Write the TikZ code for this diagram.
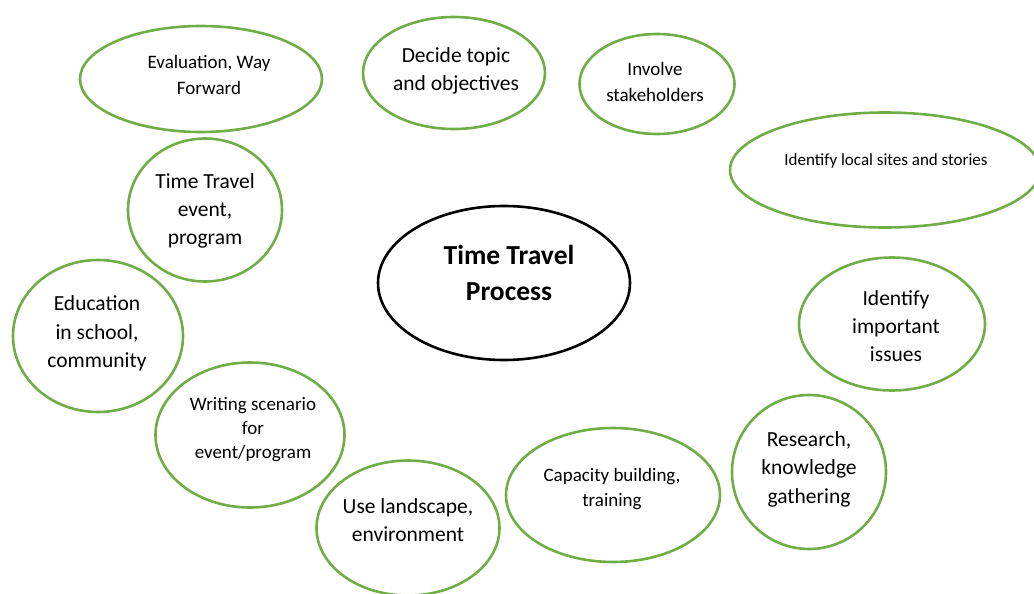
\documentclass[tikz,border=0pt]{standalone}
\usepackage{fontspec}
\setmainfont{Carlito}
\usetikzlibrary{shapes.geometric}
\definecolor{stepGreen}{RGB}{112,173,71}
\tikzstyle{stepOval}=[shape = ellipse, draw = stepGreen, line width = 2.6pt, inner sep = 0pt]
\tikzstyle{coreOval}=[shape = ellipse, draw = black, line width = 2.6pt, inner sep = 0pt]
\tikzstyle{textSmall}=[anchor = base, align = center, inner sep = 0pt, font = \fontsize{19}{25.7}\selectfont]
\tikzstyle{textMid}=[anchor = base, align = center, inner sep = 0pt, font = \fontsize{21.5}{28.2}\selectfont]
\begin{document}
\begin{tikzpicture}[x = 1pt, y = -1pt]
\useasboundingbox (0,0) rectangle (1034,594);
\clip (0,0) rectangle (1034,594);
\tikzstyle{textTiny}=[anchor = base, align = center, inner sep = 0pt, font = \fontsize{17}{22}\selectfont]
\tikzstyle{textCore}=[anchor = base, align = center, inner sep = 0pt, font = \fontsize{27.5}{36.7}\selectfont\bfseries]
\node[stepOval, minimum width = 242, minimum height = 106] (evalOval) at (201, 79) {};
\node[stepOval, minimum width = 182, minimum height = 112] (decideOval) at (454, 73) {};
\node[stepOval, minimum width = 155, minimum height = 100] (involveOval) at (657, 84) {};
\node[stepOval, minimum width = 310, minimum height = 115] (sitesOval) at (885, 170) {};
\node[coreOval, minimum width = 252, minimum height = 154] (coreProcess) at (504, 283) {};
\node[stepOval, minimum width = 154, minimum height = 143] (eventOval) at (205, 210) {};
\node[stepOval, minimum width = 170, minimum height = 152] (eduOval) at (98, 336) {};
\node[stepOval, minimum width = 186, minimum height = 133] (issuesOval) at (892, 324) {};
\node[stepOval, minimum width = 189, minimum height = 145] (writeOval) at (250, 435) {};
\node[stepOval, minimum width = 154, minimum height = 154] (researchOval) at (809, 472) {};
\node[stepOval, minimum width = 214, minimum height = 134] (capacityOval) at (613, 495) {};
\node[stepOval, minimum width = 183, minimum height = 135] (landOval) at (408, 528) {};
\node[textSmall] (evalText) at (209, 94.3) {Evaluation, Way\\Forward};
\node[textMid] (decideText) at (456, 90.7) {Decide topic\\and objectives};
\node[textSmall] (involveText) at (655, 101.7) {Involve\\stakeholders};
\node[textTiny] (sitesText) at (886, 165.7) {Identify local sites and stories};
\node[textCore] (coreText) at (509, 300.7) {Time Travel\\Process};
\node[textMid] (eventText) at (205, 244.8) {Time Travel\\event,\\program};
\node[textMid] (eduText) at (97, 367.3) {Education\\in school,\\community};
\node[textMid] (issuesText) at (896, 361.7) {Identify\\important\\issues};
\node[textSmall, font = \fontsize{19}{23.7}\selectfont] (writeText) at (253, 458.3) {Writing scenario\\for\\event/program};
\node[textMid] (researchText) at (809, 503) {Research,\\knowledge\\gathering};
\node[textSmall] (capacityText) at (612, 506.7) {Capacity building,\\training};
\node[textMid] (landText) at (408, 541.7) {Use landscape,\\environment};
\end{tikzpicture}
\end{document}
